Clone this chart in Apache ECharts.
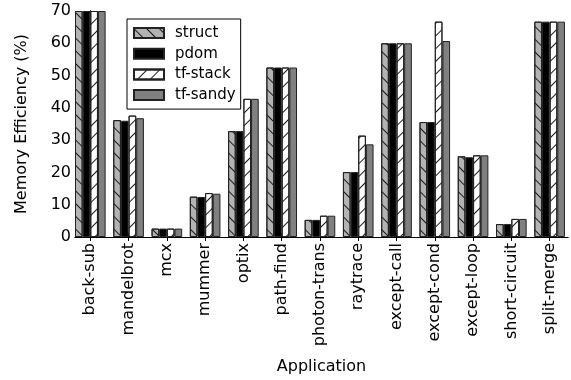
<!DOCTYPE html>
<html>
<head>
<meta charset="utf-8">
<script src="https://cdn.jsdelivr.net/npm/echarts@6/dist/echarts.min.js"></script>
<style>
  html, body { margin: 0; padding: 0; background: #fff; }
  #chart { width: 571px; height: 380px; }
</style>
</head>
<body>
<div id="chart"></div>
<script>
// Memory efficiency per application for four configurations
const categories = ['back-sub', 'mandelbrot', 'mcx', 'mummer', 'optix', 'path-find',
  'photon-trans', 'raytrace', 'except-call', 'except-cond', 'except-loop',
  'short-circuit', 'split-merge'];
const structVals  = [70, 36.2, 2.6, 12.5, 32.8, 52.5, 5.3, 20.1, 60.0, 35.6, 25.0, 4.0, 66.7];
const pdomVals    = [70, 36.0, 2.6, 12.4, 32.8, 52.5, 5.3, 20.1, 60.0, 35.6, 24.7, 4.0, 66.7];
const tfStackVals = [70, 37.6, 2.6, 13.6, 42.8, 52.5, 6.6, 31.4, 60.0, 66.7, 25.3, 5.6, 66.7];
const tfSandyVals = [70, 36.8, 2.6, 13.4, 42.8, 52.5, 6.6, 28.7, 60.0, 60.7, 25.3, 5.6, 66.7];
const yTicks = [0, 10, 20, 30, 40, 50, 60, 70];

const FONT = 'DejaVu Sans';
const catIdx = categories.map((_, i) => i);
const pairs = vals => vals.map((v, i) => [i, v]);

// diagonal hatch drawn as rotated 1px stripes
function hatch(rot) {
  return {
    symbol: 'rect',
    symbolSize: 1,
    color: '#1a1a1a',
    dashArrayX: [1, 0],
    dashArrayY: [1, 7.5],
    rotation: rot
  };
}

function barSeries(name, vals, color, decal) {
  const s = {
    name: name,
    type: 'bar',
    data: pairs(vals),
    barWidth: '20%',
    barGap: '0%',
    itemStyle: { color: color, borderColor: '#222', borderWidth: 1 },
    emphasis: { disabled: true }
  };
  if (decal) s.itemStyle.decal = decal;
  return s;
}

const chart = echarts.init(document.getElementById('chart'), null, { renderer: 'canvas' });
chart.setOption({
  animation: false,
  backgroundColor: '#fff',
  textStyle: { fontFamily: FONT },
  grid: { left: 75, right: 3, top: 11, bottom: 143 },
  legend: {
    orient: 'vertical',
    left: 127, top: 19,
    icon: 'rect',
    itemWidth: 30, itemHeight: 10,
    itemGap: 0.7,
    padding: [4, 5, 4, 6],
    backgroundColor: '#fff',
    borderColor: '#000', borderWidth: 1,
    textStyle: { fontFamily: FONT, fontSize: 15, color: '#000', lineHeight: 20, padding: [0, 0, 0, 6] },
    data: ['struct', 'pdom', 'tf-stack', 'tf-sandy']
  },
  xAxis: [{
    type: 'value',
    min: -0.4, max: 12.48,
    position: 'bottom',
    splitLine: { show: false },
    axisLine: { show: true, lineStyle: { color: '#000', width: 1 } },
    axisTick: { show: true, inside: true, length: 4, customValues: catIdx, lineStyle: { color: '#000' } },
    axisLabel: {
      customValues: catIdx,
      rotate: 90, margin: 6,
      fontFamily: FONT, fontSize: 16, color: '#000',
      formatter: v => categories[Math.round(v)] || ''
    },
    name: 'Application',
    nameLocation: 'middle',
    nameGap: 122,
    nameTextStyle: { fontFamily: FONT, fontSize: 16, color: '#000' }
  }, {
    type: 'value',
    min: -0.4, max: 12.48,
    position: 'top',
    splitLine: { show: false },
    axisLine: { show: true, lineStyle: { color: '#000', width: 1 } },
    axisTick: { show: true, inside: true, length: 4, customValues: catIdx, lineStyle: { color: '#000' } },
    axisLabel: { show: false }
  }],
  yAxis: [{
    type: 'value',
    min: 0, max: 70, interval: 10,
    position: 'left',
    splitLine: { show: false },
    axisLine: { show: true, lineStyle: { color: '#000', width: 1 } },
    axisTick: { show: true, inside: true, length: 4, lineStyle: { color: '#000' } },
    axisLabel: {
      margin: 4,
      fontFamily: FONT, fontSize: 16, color: '#000',
      formatter: v => yTicks.includes(v) ? String(v) : ''
    },
    name: 'Memory Efficiency (%)',
    nameLocation: 'middle',
    nameRotate: 90,
    nameGap: 45,
    nameTextStyle: { fontFamily: FONT, fontSize: 16, color: '#000' }
  }, {
    type: 'value',
    min: 0, max: 70, interval: 10,
    position: 'right',
    splitLine: { show: false },
    axisLine: { show: true, lineStyle: { color: '#000', width: 1 } },
    axisTick: { show: true, inside: true, length: 4, lineStyle: { color: '#000' } },
    axisLabel: { show: false }
  }],
  series: [
    barSeries('struct', structVals, '#b3b3b3', hatch(Math.PI / 4)),
    barSeries('pdom', pdomVals, '#000000', null),
    barSeries('tf-stack', tfStackVals, '#ffffff', hatch(-Math.PI / 4)),
    barSeries('tf-sandy', tfSandyVals, '#808080', null)
  ]
});
</script>
</body>
</html>
